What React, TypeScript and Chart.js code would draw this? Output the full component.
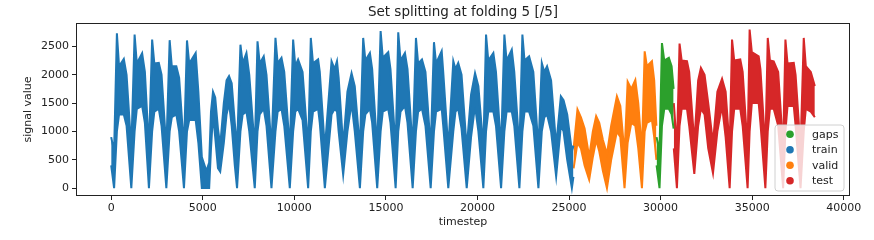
import React, { useEffect, useRef } from "react";
import { Chart, registerables } from "chart.js";

Chart.register(...registerables);

// ---- data (band envelope of the scatter: upper / lower edge) ----
const trainT = [
  0, 160, 312, 430, 690, 840,
  1099, 1279, 1400, 1690, 1840,
  2061, 2236, 2356, 2600, 2750,
  3012, 3193, 3310, 3557, 3710,
  3974, 4139, 4260, 4614, 4760, 4950, 5200, 5350, 5450, 5560, 5680, 5830,
  5953, 6150, 6300, 6435, 6580, 6750,
  6872, 7058, 7180, 7386, 7540,
  7840, 7990, 8110, 8330, 8480,
  8752, 8970, 9090, 9300, 9450,
  9753, 9935, 10055, 10207, 10450,
  10754, 10900, 11020, 11300, 11390,
  11667, 12032, 12200, 12330, 12420,
  12667, 12900, 13125, 13300,
  13580, 13760, 13880, 14127, 14250,
  14526, 14712, 14830, 15128, 15250,
  15532, 15674, 15800, 16040, 16180,
  16461, 16641, 16760, 16970, 17160,
  17445, 17625, 17740, 18047, 18130,
  18407, 18680, 18800, 18950, 19130,
  19413, 19650, 19867, 20050,
  20321, 20468, 20590, 20868, 21010,
  21289, 21469, 21590, 21874, 22010,
  22289, 22453, 22570, 22820, 23050,
  23328, 23513, 23650, 23800, 24020,
  24296, 24553, 24700, 24900, 25154, 25240,
];
const trainHi = [
  900, 650, 2730, 2150, 2280, 2000,
  700, 2710, 2200, 2380, 2050,
  700, 2620, 2200, 2210, 2000,
  700, 2610, 2150, 2150, 1950,
  700, 2605, 2200, 2385, 1700, 550, 300, 450, 1350, 1700, 1600, 1050,
  750, 1500, 1900, 1975, 1850, 1150,
  700, 2530, 2200, 2385, 2000,
  700, 2590, 2200, 2325, 2000,
  700, 2650, 2200, 2300, 2050,
  700, 2620, 2150, 2270, 2050,
  700, 2650, 2200, 2270, 2050,
  700, 2240, 2100, 2240, 1950,
  750, 1700, 2030, 1800,
  700, 2650, 2250, 2385, 2100,
  700, 2770, 2300, 2400, 2100,
  700, 2750, 2250, 2385, 2100,
  700, 2650, 2200, 2270, 2050,
  700, 2575, 2200, 2420, 2050,
  700, 2240, 2100, 2210, 2000,
  700, 1650, 2030, 1800,
  700, 2710, 2250, 2385, 2050,
  700, 2710, 2250, 2445, 2050,
  700, 2710, 2250, 2325, 2050,
  700, 2210, 2050, 2150, 1900,
  750, 1620, 1550, 1300, 650, 750,
];
const trainLo = [
  400, 0, 1000, 1300, 1300, 1100,
  0, 1000, 1400, 1450, 1150,
  0, 1000, 1350, 1400, 1100,
  0, 1000, 1250, 1300, 1000,
  0, 1000, 1200, 1200, 800, 0, 0, 0, 700, 1300, 900, 350,
  290, 800, 1300, 1500, 1100, 400,
  0, 1000, 1300, 1350, 1000,
  0, 1000, 1300, 1400, 1100,
  0, 1000, 1350, 1400, 1100,
  0, 1000, 1350, 1400, 1200,
  0, 1000, 1350, 1400, 1150,
  0, 1300, 1400, 1350, 1000,
  235, 1000, 1500, 1000,
  0, 1000, 1300, 1400, 1150,
  0, 1000, 1350, 1400, 1150,
  0, 1000, 1350, 1450, 1150,
  0, 1000, 1350, 1400, 1100,
  0, 1000, 1350, 1400, 1100,
  0, 1000, 1350, 1400, 1050,
  0, 900, 1450, 1000,
  0, 1000, 1350, 1350, 1100,
  0, 1000, 1350, 1350, 1100,
  0, 1000, 1350, 1350, 1100,
  0, 1000, 1250, 1300, 1000,
  205, 1100, 1000, 500, 0, 200,
];

const validT = [25250, 25460, 25650, 25850, 26100, 26300, 26480, 26650, 26850, 27070, 27300, 27613, 27800, 28030, 28200, 28400, 28620, 28780, 28980, 29130, 29250, 29527, 29650, 29770];
const validHi = [700, 1390, 1250, 1050, 550, 1000, 1270, 1150, 850, 600, 1100, 1620, 1450, 600, 1880, 1750, 1910, 1500, 650, 2414, 2150, 2240, 1900, 1100];
const validLo = [350, 800, 700, 400, 150, 550, 850, 650, 300, 0, 500, 1000, 900, 0, 800, 1150, 1100, 700, 0, 1000, 1150, 1200, 900, 500];

const gapsT = [29780, 29940, 30073, 30200, 30450, 30600, 30710];
const gapsHi = [900, 650, 2560, 2250, 2300, 2150, 1750];
const gapsLo = [400, 0, 1100, 1400, 1400, 1300, 1050];

const testT = [30720, 30890, 31034, 31150, 31440, 31560, 31840, 32050, 32200, 32400, 32600, 32860, 33100, 33355, 33550, 33770, 33900, 34020, 34350, 34480, 34750, 34860, 34980, 35355, 35450, 35720, 35850, 35970, 36175, 36420, 36690, 36815, 36930, 37270, 37370, 37640, 37815, 37930, 38200, 38420];
const testHi = [1500, 700, 2550, 2250, 2240, 2050, 800, 1900, 2120, 2000, 1500, 800, 1700, 1930, 1700, 700, 2620, 2250, 2270, 2050, 700, 2797, 2400, 2326, 2100, 700, 2650, 2250, 2237, 2050, 700, 2620, 2200, 2210, 2000, 700, 2650, 2150, 2050, 1800];
const testLo = [700, 0, 1100, 1400, 1400, 1100, 250, 1100, 1400, 1300, 700, 265, 1000, 1450, 900, 0, 1000, 1400, 1400, 1100, 0, 1000, 1500, 1500, 1150, 0, 1000, 1400, 1400, 1100, 0, 1000, 1450, 1450, 1100, 0, 1000, 1400, 1350, 1250];

const xTicks = [0, 5000, 10000, 15000, 20000, 25000, 30000, 35000, 40000];
const yTicks = [0, 500, 1000, 1500, 2000, 2500];
const legendLabels = ["gaps", "train", "valid", "test"];
const titleText = "Set splitting at folding 5 [/5]";
const xLabel = "timestep";
const yLabel = "signal value";

const COLORS: Record<string, string> = {
  gaps: "#2ca02c",
  train: "#1f77b4",
  valid: "#ff7f0e",
  test: "#d62728",
};

function pts(t: number[], v: number[]) {
  const n = Math.min(t.length, v.length);
  const out: { x: number; y: number }[] = [];
  for (let i = 0; i < n; i++) out.push({ x: t[i], y: v[i] });
  return out;
}

const FONT = "'DejaVu Sans', 'Liberation Sans', sans-serif";

export default function App() {
  const ref = useRef<HTMLCanvasElement | null>(null);

  useEffect(() => {
    if (!ref.current) return;
    const segs = [
      { label: "gaps", t: gapsT, hi: gapsHi, lo: gapsLo },
      { label: "train", t: trainT, hi: trainHi, lo: trainLo },
      { label: "valid", t: validT, hi: validHi, lo: validLo },
      { label: "test", t: testT, hi: testHi, lo: testLo },
    ];
    const datasets: any[] = [];
    segs.forEach((s) => {
      const c = COLORS[s.label];
      datasets.push({
        label: s.label,
        data: pts(s.t, s.hi),
        borderColor: c,
        backgroundColor: c,
        fill: "+1",
        borderWidth: 2,
        pointRadius: 0,
        tension: 0,
      });
      datasets.push({
        label: s.label + "_lo",
        data: pts(s.t, s.lo),
        borderColor: c,
        backgroundColor: c,
        fill: false,
        borderWidth: 2,
        pointRadius: 0,
        tension: 0,
      });
    });

    const deco = {
      id: "deco",
      afterDraw(chart: any) {
        const ctx = chart.ctx as CanvasRenderingContext2D;
        const a = chart.chartArea;
        ctx.save();
        ctx.strokeStyle = "#222";
        ctx.lineWidth = 1;
        const l = Math.round(a.left) + 0.5;
        const t = Math.round(a.top) + 0.5;
        const r = Math.round(a.right) - 0.5;
        const b = Math.round(a.bottom) - 0.5;
        ctx.strokeRect(l, t, r - l, b - t);
        ctx.fillStyle = "#222";
        ctx.textAlign = "center";
        ctx.textBaseline = "middle";
        ctx.font = `13.5px ${FONT}`;
        ctx.fillText(titleText, (a.left + a.right) / 2, 12.5);
        ctx.font = `11px ${FONT}`;
        ctx.fillText(xLabel, (a.left + a.right) / 2, 222.5);
        ctx.save();
        ctx.translate(28.5, (a.top + a.bottom) / 2);
        ctx.rotate(-Math.PI / 2);
        ctx.fillText(yLabel, 0, 0);
        ctx.restore();
        const bx = 775, by = 125, bw = 69, bh = 66, rad = 3;
        ctx.beginPath();
        ctx.moveTo(bx + rad, by);
        ctx.lineTo(bx + bw - rad, by);
        ctx.arcTo(bx + bw, by, bx + bw, by + rad, rad);
        ctx.lineTo(bx + bw, by + bh - rad);
        ctx.arcTo(bx + bw, by + bh, bx + bw - rad, by + bh, rad);
        ctx.lineTo(bx + rad, by + bh);
        ctx.arcTo(bx, by + bh, bx, by + bh - rad, rad);
        ctx.lineTo(bx, by + rad);
        ctx.arcTo(bx, by, bx + rad, by, rad);
        ctx.closePath();
        ctx.fillStyle = "rgba(255,255,255,0.8)";
        ctx.fill();
        ctx.strokeStyle = "#d0d0d0";
        ctx.stroke();
        const rows = [134.3, 149.8, 165.2, 180.7];
        ctx.textAlign = "left";
        ctx.textBaseline = "middle";
        ctx.font = `11px ${FONT}`;
        legendLabels.forEach((lab, i) => {
          ctx.beginPath();
          ctx.arc(790, rows[i], 3.8, 0, Math.PI * 2);
          ctx.fillStyle = COLORS[lab];
          ctx.fill();
          ctx.fillStyle = "#222";
          ctx.fillText(lab, 812, rows[i] + 0.5);
        });
        ctx.restore();
      },
    };

    const tickFont = { family: FONT, size: 11 };
    const chart = new Chart(ref.current, {
      type: "line",
      data: { datasets },
      options: {
        responsive: false,
        animation: false,
        devicePixelRatio: 1,
        layout: { padding: { top: 23, right: 24, left: 0, bottom: 0 } },
        plugins: {
          legend: { display: false },
          tooltip: { enabled: false },
          title: { display: false },
        },
        scales: {
          x: {
            type: "linear",
            min: -1921,
            max: 40341,
            afterBuildTicks: (s: any) => {
              s.ticks = xTicks.map((v) => ({ value: v }));
            },
            afterFit: (s: any) => {
              s.height = 44;
            },
            grid: { drawOnChartArea: false, drawTicks: true, tickLength: 4, color: "#222" },
            border: { display: false },
            ticks: {
              color: "#222",
              font: tickFont,
              padding: 2,
              maxRotation: 0,
              autoSkip: false,
              callback: (v: any) => String(v),
            },
          },
          y: {
            type: "linear",
            min: -139,
            max: 2913,
            afterBuildTicks: (s: any) => {
              s.ticks = yTicks.map((v) => ({ value: v }));
            },
            afterFit: (s: any) => {
              s.width = 76;
            },
            grid: { drawOnChartArea: false, drawTicks: true, tickLength: 4, color: "#222" },
            border: { display: false },
            ticks: {
              color: "#222",
              font: tickFont,
              padding: 3,
              autoSkip: false,
              callback: (v: any) => String(v),
            },
          },
        },
      } as any,
      plugins: [deco],
    });
    return () => chart.destroy();
  }, []);

  return (
    <div style={{ position: "fixed", left: 0, top: 0, width: 874, height: 240, background: "#fff" }}>
      <canvas ref={ref} width={874} height={240} style={{ display: "block" }} />
    </div>
  );
}
